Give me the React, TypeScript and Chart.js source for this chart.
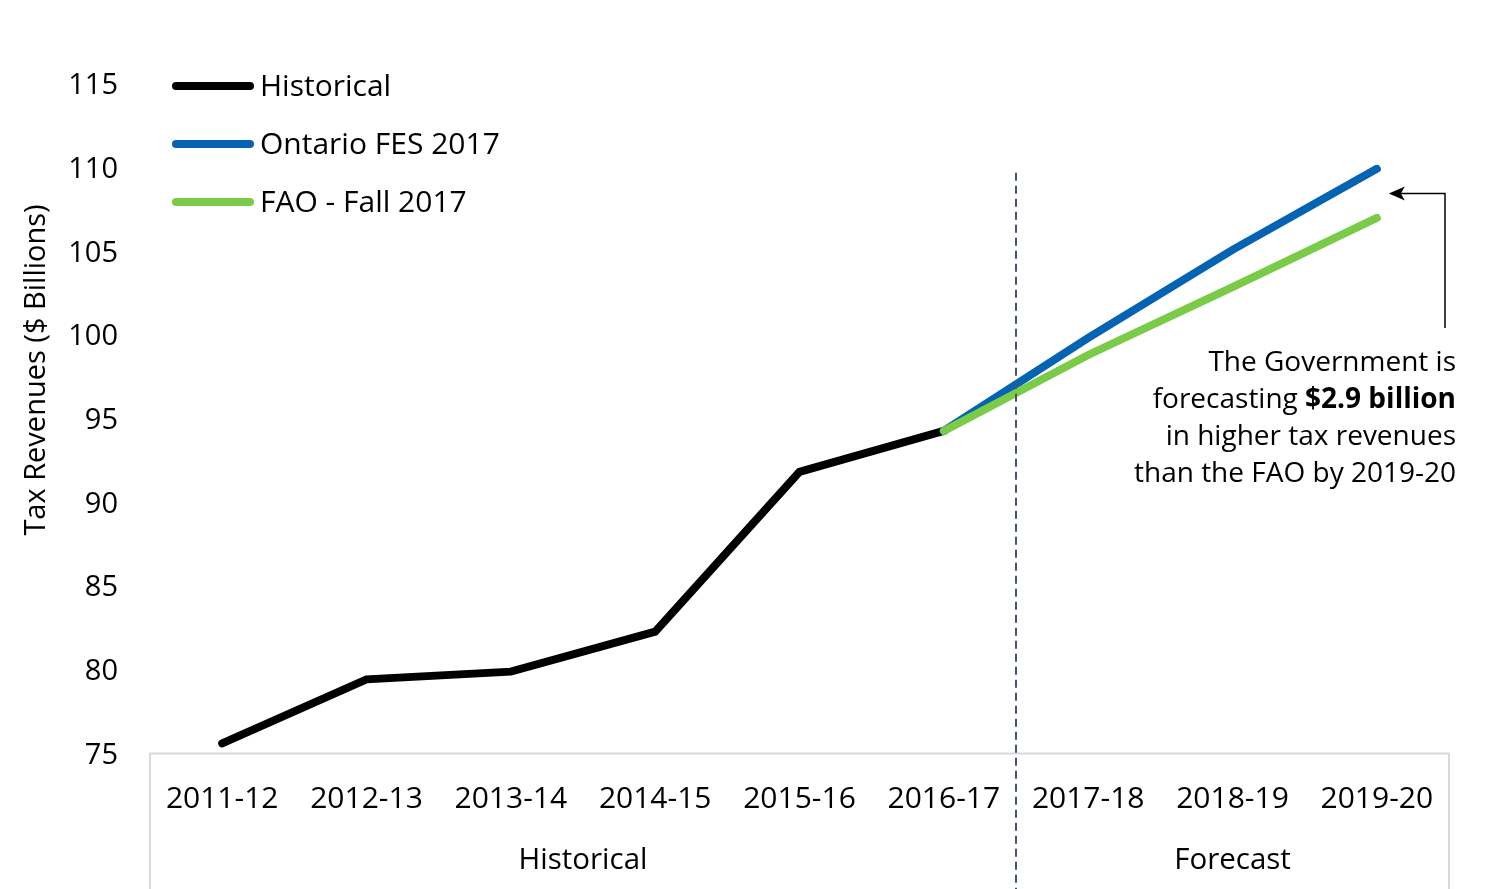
import React, { useEffect, useRef } from "react";
import { Chart, registerables } from "chart.js";

Chart.register(...registerables);

const categories = ["2011-12", "2012-13", "2013-14", "2014-15", "2015-16", "2016-17", "2017-18", "2018-19", "2019-20"];
const groupLabels = ["Historical", "Forecast"];
const groupStarts = [0, 6];
const historical = [75.6, 79.43, 79.89, 82.28, 91.83, 94.27, null, null, null];
const ontarioFES = [null, null, null, null, null, 94.27, 99.83, 105.09, 109.93];
const faoFall = [null, null, null, null, null, 94.27, 98.81, 102.87, 107.0];
const seriesNames = ["Historical", "Ontario FES 2017", "FAO - Fall 2017"];
const seriesColors = ["#000000", "#0563b3", "#7acb48"];
const yMin = 75;
const yMax = 115;
const yStep = 5;
const yTitle = "Tax Revenues ($ Billions)";
const noteLines = ["The Government is", "forecasting ", "in higher tax revenues", "than the FAO by 2019-20"];
const noteBold = "$2.9 billion";

const FONT = "'Open Sans', 'Noto Sans', sans-serif";

const overlay = {
  id: "overlay",
  afterDatasetsDraw(chart: any) {
    const { ctx, chartArea, scales } = chart;
    const xs = scales.x;
    const ys = scales.y;
    const H = chart.height;
    ctx.save();

    // category box
    ctx.strokeStyle = "#d9d9d9";
    ctx.lineWidth = 2;
    ctx.beginPath();
    ctx.moveTo(chartArea.left, H);
    ctx.lineTo(chartArea.left, chartArea.bottom);
    ctx.lineTo(chartArea.right, chartArea.bottom);
    ctx.lineTo(chartArea.right, H);
    ctx.stroke();

    // divider
    const divX = (xs.getPixelForValue(groupStarts[1] - 1) + xs.getPixelForValue(groupStarts[1])) / 2;
    ctx.strokeStyle = "#44546a";
    ctx.lineWidth = 2;
    ctx.setLineDash([8, 5]);
    ctx.beginPath();
    ctx.moveTo(divX, ys.getPixelForValue(109.7));
    ctx.lineTo(divX, H);
    ctx.stroke();
    ctx.setLineDash([]);

    // group labels
    ctx.fillStyle = "#000";
    ctx.font = `29.5px ${FONT}`;
    ctx.textAlign = "center";
    ctx.textBaseline = "middle";
    const bounds = [chartArea.left, divX, chartArea.right];
    groupLabels.forEach((g, i) => {
      ctx.fillText(g, (bounds[i] + bounds[i + 1]) / 2, 861);
    });

    // legend
    const rows = [86, 144, 202];
    ctx.font = `30px ${FONT}`;
    seriesNames.forEach((n, i) => {
      ctx.strokeStyle = seriesColors[i];
      ctx.lineWidth = 8;
      ctx.lineCap = "round";
      ctx.beginPath();
      ctx.moveTo(176, rows[i]);
      ctx.lineTo(250, rows[i]);
      ctx.stroke();
      ctx.fillStyle = "#000";
      ctx.textAlign = "left";
      ctx.fillText(n, 260, rows[i] + 1);
    });

    // y title
    ctx.save();
    ctx.translate(37, 370);
    ctx.rotate(-Math.PI / 2);
    ctx.font = `29px ${FONT}`;
    ctx.textAlign = "center";
    ctx.fillText(yTitle, 0, 0);
    ctx.restore();

    // annotation
    const rx = 1456;
    const ly = [363, 400, 437, 474];
    ctx.textAlign = "right";
    ctx.font = `28px ${FONT}`;
    ctx.fillText(noteLines[0], rx, ly[0]);
    ctx.font = `bold 28px ${FONT}`;
    const bw = ctx.measureText(noteBold).width;
    ctx.fillText(noteBold, rx, ly[1]);
    ctx.font = `28px ${FONT}`;
    ctx.fillText(noteLines[1], rx - bw, ly[1]);
    ctx.fillText(noteLines[2], rx, ly[2]);
    ctx.fillText(noteLines[3], rx, ly[3]);

    // arrow
    const last = categories.length - 1;
    const tipY = ys.getPixelForValue((ontarioFES[last]! + faoFall[last]!) / 2);
    const tipX = xs.getPixelForValue(last) + 12;
    const ax = 1445;
    ctx.strokeStyle = "#000";
    ctx.lineWidth = 1.5;
    ctx.lineCap = "butt";
    ctx.beginPath();
    ctx.moveTo(ax, 328);
    ctx.lineTo(ax, tipY);
    ctx.lineTo(tipX + 10, tipY);
    ctx.stroke();
    ctx.fillStyle = "#000";
    ctx.beginPath();
    ctx.moveTo(tipX, tipY);
    ctx.lineTo(tipX + 16, tipY - 7);
    ctx.lineTo(tipX + 12, tipY);
    ctx.lineTo(tipX + 16, tipY + 7);
    ctx.closePath();
    ctx.fill();

    ctx.restore();
  },
};

export default function App() {
  const ref = useRef<HTMLCanvasElement>(null);
  useEffect(() => {
    if (!ref.current) return;
    const mk = (label: string, data: (number | null)[], color: string, order: number) => ({
      label,
      data,
      borderColor: color,
      backgroundColor: color,
      borderWidth: 8,
      borderCapStyle: "round" as const,
      borderJoinStyle: "miter" as const,
      pointRadius: 0,
      tension: 0,
      fill: false,
      order,
      clip: false as any,
    });
    const chart = new Chart(ref.current, {
      type: "line",
      data: {
        labels: categories,
        datasets: [
          mk(seriesNames[0], historical, seriesColors[0], 2),
          mk(seriesNames[1], ontarioFES, seriesColors[1], 1),
          mk(seriesNames[2], faoFall, seriesColors[2], 0),
        ],
      },
      options: {
        responsive: false,
        animation: false,
        layout: { padding: { top: 84, right: 51, left: 0, bottom: 0 } },
        plugins: { legend: { display: false }, tooltip: { enabled: false }, title: { display: false } },
        scales: {
          x: {
            type: "category",
            offset: true,
            grid: { display: false },
            border: { display: false },
            ticks: { color: "#000", font: { family: FONT, size: 30 }, padding: 20, maxRotation: 0, autoSkip: false },
            afterFit: (s: any) => { s.height = 135.5; },
          },
          y: {
            min: yMin,
            max: yMax,
            grid: { display: false },
            border: { display: false },
            ticks: { stepSize: yStep, color: "#000", font: { family: FONT, size: 29 }, padding: 24, labelOffset: 2 },
            afterFit: (s: any) => { s.width = 150; },
          },
        },
      },
      plugins: [overlay],
    });
    return () => chart.destroy();
  }, []);
  return (
    <div style={{ position: "fixed", left: 0, top: 0, width: 1500, height: 889, background: "#fff" }}>
      <canvas ref={ref} width={1500} height={889} style={{ display: "block" }} />
    </div>
  );
}
